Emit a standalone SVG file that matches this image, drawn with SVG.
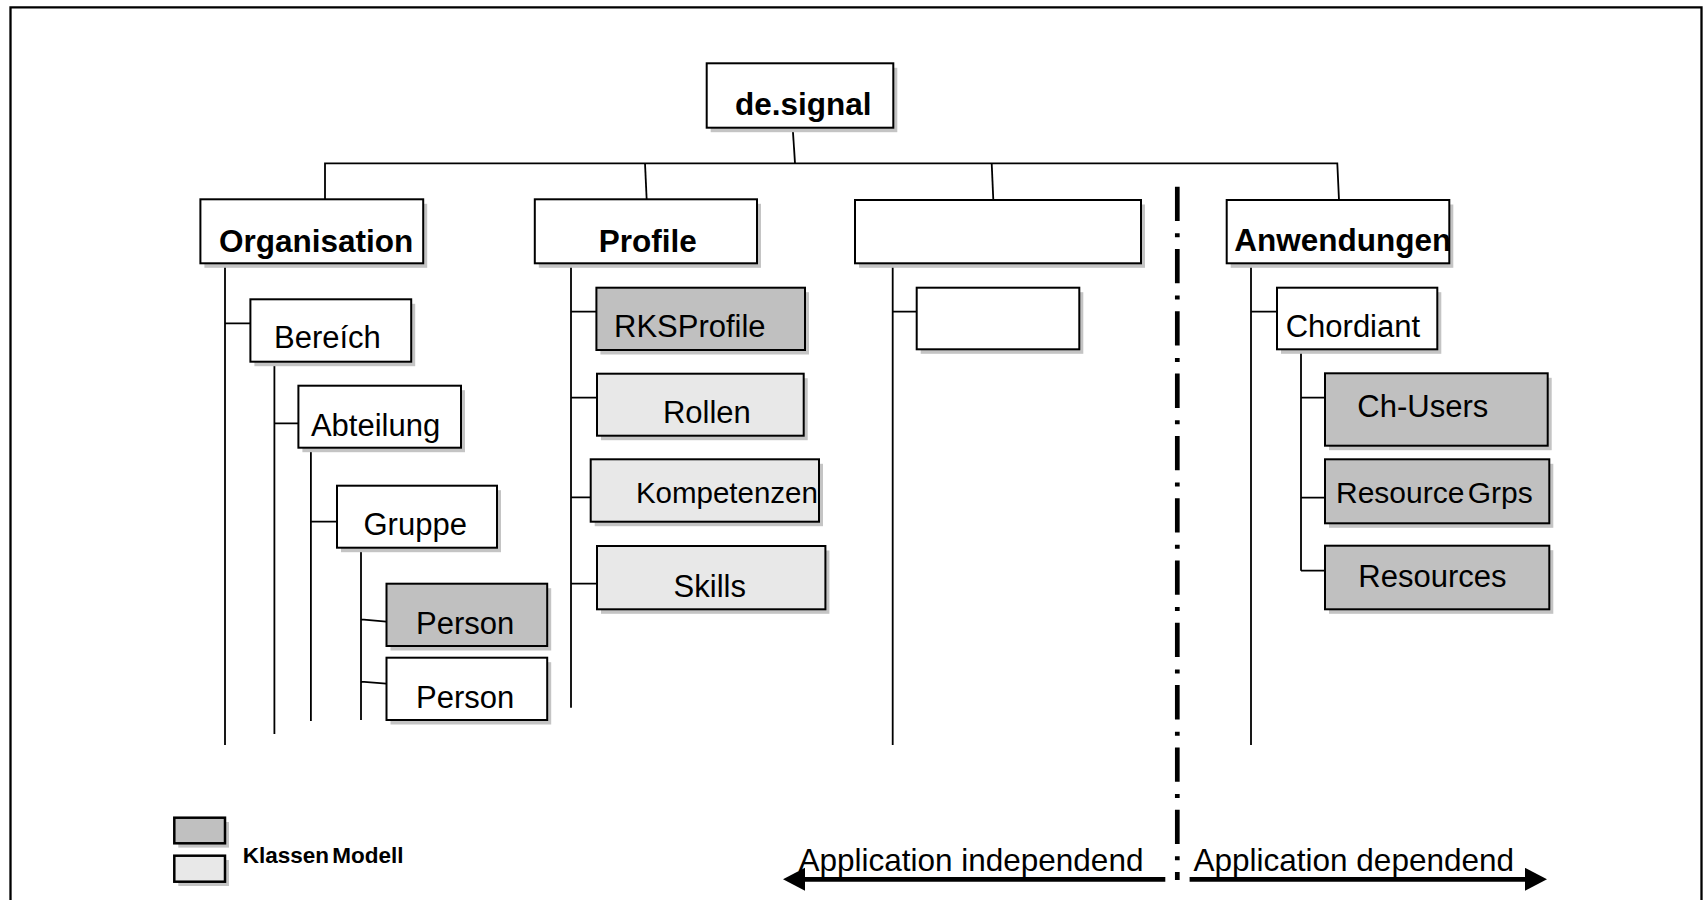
<svg xmlns="http://www.w3.org/2000/svg" width="1703" height="900" viewBox="0 0 1703 900">
<style>
  .sh { fill: #c4c4c4; stroke: none; }
  .bx { fill: #ffffff; stroke: #000; stroke-width: 2; }
  .dk { fill: #c0c0c0; stroke: #000; stroke-width: 2; }
  .lt { fill: #e8e8e8; stroke: #000; stroke-width: 2; }
  .t { font-family: "Liberation Sans", Arial, sans-serif; font-size: 31px; fill: #000; }
  .tb { font-family: "Liberation Sans", Arial, sans-serif; font-size: 31.5px; font-weight: bold; fill: #000; }
  .ln { fill: none; stroke: #000; stroke-width: 1.8; }
  .ar { fill: none; stroke: #000; stroke-width: 4.7; }
</style>
<defs>
  <marker id="ah" markerUnits="userSpaceOnUse" markerWidth="24" markerHeight="24" refX="0" refY="11.5" orient="auto">
    <path d="M0,0 L22,11.5 L0,23 z" fill="#000"/>
  </marker>
</defs>
<rect width="1703" height="900" fill="#fff"/>
<path d="M10.5,900 V7.3 H1701.5 V900" fill="none" stroke="#000" stroke-width="2.3"/>

<g id="connectors">
  <path class="ln" d="M792.7,127.7 L795,163.3"/>
  <path class="ln" d="M325,199.3 V163.3 H1337.3 L1339,200"/>
  <path class="ln" d="M645,163.3 L646.7,200"/>
  <path class="ln" d="M991.7,163.3 L993.3,200"/>
  <path class="ln" d="M225,263.3 V745 M225,323.3 H250.4"/>
  <path class="ln" d="M274.4,361.7 V734 M274.4,423.3 H298.4"/>
  <path class="ln" d="M310.9,447.7 V721 M310.9,521.7 H337"/>
  <path class="ln" d="M361,545.7 V720 M361,619.3 L386.3,621.7 M361,681.7 L386.3,683.7"/>
  <path class="ln" d="M571,261 V707.7 M571,311.7 H596.4 M571,397.7 H597 M571,497.3 H597.8 M571,583.7 H597"/>
  <path class="ln" d="M892.7,261.7 V745 M892.7,311.7 H916.7"/>
  <path class="ln" d="M1251,261.7 V745 M1251,311.7 H1277"/>
  <path class="ln" d="M1301,347.3 V570.7 M1301,397.7 H1325 M1301,497.7 H1325 M1301,570.7 H1325"/>
  <line x1="1177.3" y1="186.7" x2="1177.3" y2="880" stroke="#000" stroke-width="4.7" stroke-dasharray="34.3 12.3 4 11.7"/>
  <line class="ar" x1="1165.3" y1="879.3" x2="805" y2="879.3" marker-end="url(#ah)"/>
  <line class="ar" x1="1189.6" y1="879.3" x2="1525" y2="879.3" marker-end="url(#ah)"/>
</g>

<g id="n-designal">
  <rect class="sh" x="710.7" y="67.8" width="186.6" height="64.4"/>
  <rect class="bx" x="706.7" y="63.3" width="186.6" height="64.4"/>
  <text class="tb" x="735" y="115">de.signal</text>
</g>
<g id="n-organisation">
  <rect class="sh" x="204.4" y="203.8" width="222.8" height="64"/>
  <rect class="bx" x="200.4" y="199.3" width="222.8" height="64"/>
  <text class="tb" x="219" y="251.7">Organisation</text>
</g>
<g id="n-profile">
  <rect class="sh" x="538.8" y="203.8" width="222.2" height="64"/>
  <rect class="bx" x="534.8" y="199.3" width="222.2" height="64"/>
  <text class="tb" x="598.7" y="251.7">Profile</text>
</g>
<g id="n-empty1">
  <rect class="sh" x="859" y="204.5" width="286" height="63.3"/>
  <rect class="bx" x="855" y="200" width="286" height="63.3"/>
</g>
<g id="n-anwendungen">
  <rect class="sh" x="1230.7" y="204.5" width="222.6" height="63.3"/>
  <rect class="bx" x="1226.7" y="200" width="222.6" height="63.3"/>
  <text class="tb" x="1234.3" y="251">Anwendungen</text>
</g>
<g id="n-bereich">
  <rect class="sh" x="254.4" y="303.8" width="160.8" height="62.4"/>
  <rect class="bx" x="250.4" y="299.3" width="160.8" height="62.4"/>
  <text class="t" x="274" y="348.3">Bereích</text>
</g>
<g id="n-abteilung">
  <rect class="sh" x="302.4" y="390.2" width="162.6" height="62"/>
  <rect class="bx" x="298.4" y="385.7" width="162.6" height="62"/>
  <text class="t" x="310.9" y="435.7">Abteilung</text>
</g>
<g id="n-gruppe">
  <rect class="sh" x="341" y="490.2" width="160" height="62"/>
  <rect class="bx" x="337" y="485.7" width="160" height="62"/>
  <text class="t" x="363.5" y="535">Gruppe</text>
</g>
<g id="n-person1">
  <rect class="sh" x="390.5" y="588.2" width="160.7" height="62.3"/>
  <rect class="dk" x="386.5" y="583.7" width="160.7" height="62.3"/>
  <text class="t" x="416" y="634">Person</text>
</g>
<g id="n-person2">
  <rect class="sh" x="390.5" y="662.2" width="160.7" height="62.3"/>
  <rect class="bx" x="386.5" y="657.7" width="160.7" height="62.3"/>
  <text class="t" x="416" y="707.7">Person</text>
</g>
<g id="n-rksprofile">
  <rect class="sh" x="600.4" y="292.2" width="208.6" height="62.3"/>
  <rect class="dk" x="596.4" y="287.7" width="208.6" height="62.3"/>
  <text class="t" x="614" y="336.7">RKSProfile</text>
</g>
<g id="n-rollen">
  <rect class="sh" x="601" y="378.2" width="206.7" height="62"/>
  <rect class="lt" x="597" y="373.7" width="206.7" height="62"/>
  <text class="t" x="662.9" y="423.3">Rollen</text>
</g>
<g id="n-kompetenzen">
  <rect class="sh" x="594.7" y="463.8" width="228.3" height="62.4"/>
  <rect class="lt" x="590.7" y="459.3" width="228.3" height="62.4"/>
  <text class="t" x="635.9" y="503" style="font-size:29.5px">Kompetenzen</text>
</g>
<g id="n-skills">
  <rect class="sh" x="601" y="550.5" width="228.4" height="63.3"/>
  <rect class="lt" x="597" y="546" width="228.4" height="63.3"/>
  <text class="t" x="673.6" y="596.7">Skills</text>
</g>
<g id="n-empty2">
  <rect class="sh" x="920.7" y="292.2" width="162.6" height="61.6"/>
  <rect class="bx" x="916.7" y="287.7" width="162.6" height="61.6"/>
</g>
<g id="n-chordiant">
  <rect class="sh" x="1281" y="292.2" width="160.3" height="61.6"/>
  <rect class="bx" x="1277" y="287.7" width="160.3" height="61.6"/>
  <text class="t" x="1285.7" y="337.3">Chordiant</text>
</g>
<g id="n-chusers">
  <rect class="sh" x="1329" y="377.8" width="222.7" height="72.4"/>
  <rect class="dk" x="1325" y="373.3" width="222.7" height="72.4"/>
  <text class="t" x="1357.3" y="417.3">Ch-Users</text>
</g>
<g id="n-resourcegrps">
  <rect class="sh" x="1329" y="463.8" width="224.3" height="64"/>
  <rect class="dk" x="1325" y="459.3" width="224.3" height="64"/>
  <text class="t" x="1336" y="503.3" style="font-size:30px" word-spacing="-5">Resource Grps</text>
</g>
<g id="n-resources">
  <rect class="sh" x="1329" y="550.2" width="224.3" height="63.6"/>
  <rect class="dk" x="1325" y="545.7" width="224.3" height="63.6"/>
  <text class="t" x="1358.3" y="587.3">Resources</text>
</g>

<g id="legend">
  <rect class="sh" x="178.3" y="822" width="50.7" height="25.6"/>
  <rect class="dk" x="174.3" y="817.7" width="50.7" height="25.6" style="stroke-width:2.5"/>
  <rect class="sh" x="178.3" y="860" width="50.7" height="26"/>
  <rect class="lt" x="174.3" y="855.7" width="50.7" height="26" style="stroke-width:2.5"/>
  <text x="242.7" y="863.3" style="font-family:'Liberation Sans', Arial, sans-serif; font-size:22.5px; font-weight:bold" word-spacing="-3">Klassen Modell</text>
</g>

<g id="labels">
  <text class="t" x="798.4" y="870.7" style="font-size:31.5px">Application independend</text>
  <text class="t" x="1193.5" y="871" style="font-size:31.5px">Application dependend</text>
</g>
</svg>
